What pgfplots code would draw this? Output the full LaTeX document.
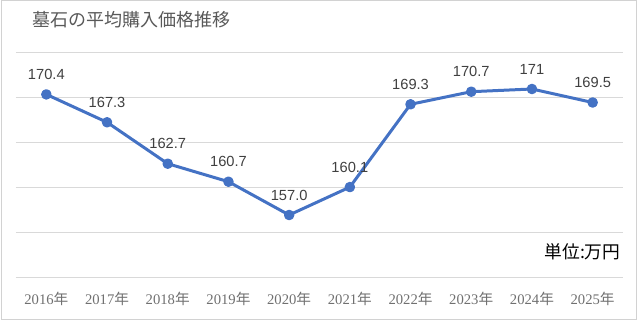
\documentclass[border=0pt]{standalone}
\usepackage{fontspec}
\setmainfont{Liberation Sans}
\newfontfamily\jp{Noto Sans CJK JP}
\newfontfamily\ser{Liberation Serif}
\usepackage{pgfplots}
\pgfplotsset{compat=1.18}
\usepackage{pgfplotstable}
\definecolor{lineblue}{HTML}{4472C4}
\definecolor{gridc}{HTML}{D9D9D9}
\definecolor{labc}{HTML}{404040}
\definecolor{titc}{HTML}{595959}
\definecolor{tickc}{HTML}{707070}
\pgfplotstableread{
x y lab
0 170.4 170.4
1 167.3 167.3
2 162.7 162.7
3 160.7 160.7
4 157.0 157.0
5 160.1 160.1
6 169.3 169.3
7 170.7 170.7
8 171 171
9 169.5 169.5
}\data
\newcommand{\yr}[1]{{\ser #1}{\jp 年}}
\begin{document}
\begin{tikzpicture}
\path (0,0) rectangle (480pt,240.75pt);
\draw[gray!35, line width=0.75pt] (0.75pt,0.75pt) rectangle (477pt,240pt);
\node[anchor=west, text=titc, font=\jp\fontsize{13.5}{16}\selectfont, inner sep=0pt] at (24pt,225.75pt) {墓石の平均購入価格推移};
\begin{axis}[at={(12pt,32.25pt)}, anchor=south west, scale only axis,
  width=455.25pt, height=168.75pt,
  xmin=-0.5, xmax=9.5, ymin=150, ymax=175,
  ytick={150,155,...,175}, yticklabels={},
  xtick={0,...,9},
  xticklabels={\yr{2016},\yr{2017},\yr{2018},\yr{2019},\yr{2020},\yr{2021},\yr{2022},\yr{2023},\yr{2024},\yr{2025}},
  xticklabel style={font=\fontsize{11}{13}\selectfont, text=tickc, anchor=center, yshift=-15.75pt},
  axis line style={draw=none},
  ymajorgrids, grid style={gridc, line width=0.75pt},
  major tick length=0pt, clip=false]
\addplot[lineblue, line width=2.25pt, line join=round, mark=*, mark size=2.8pt,
  mark options={solid, fill=lineblue, draw=none},
  nodes near coords, point meta=explicit symbolic,
  every node near coord/.append style={font=\fontsize{11}{13}\selectfont, text=labc, anchor=center, yshift=15pt}]
  table[x=x,y=y,meta=lab] {\data};
\end{axis}
\node[anchor=east, font=\jp\fontsize{13.3}{15}\selectfont, inner sep=0pt] at (465.5pt,51.75pt) {単位:万円};
\end{tikzpicture}
\end{document}
